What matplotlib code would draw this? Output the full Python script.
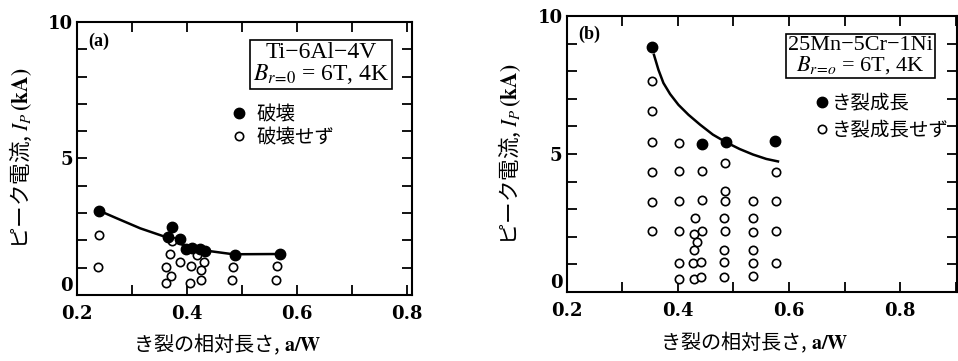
import numpy as np
import matplotlib.pyplot as plt
from matplotlib.ticker import MultipleLocator

plt.rcParams['font.family'] = ['Liberation Serif', 'DejaVu Serif']
plt.rcParams['mathtext.fontset'] = 'stix'

JP = ['Noto Sans CJK JP', 'DejaVu Sans']

# (a) Ti-6Al-4V
a_broken_x = [0.240, 0.373, 0.366, 0.387, 0.398, 0.409, 0.424, 0.433, 0.487, 0.569]
a_broken_y = [3.09, 2.50, 2.11, 2.06, 1.67, 1.71, 1.67, 1.62, 1.47, 1.50]
a_intact_x = [0.240, 0.239, 0.372, 0.369, 0.362, 0.371, 0.362, 0.388, 0.408, 0.405,
              0.418, 0.430, 0.426, 0.426, 0.484, 0.481, 0.563, 0.562]
a_intact_y = [2.18, 1.04, 1.97, 1.50, 1.01, 0.70, 0.43, 1.22, 1.06, 0.43,
              1.47, 1.22, 0.92, 0.55, 1.01, 0.55, 1.06, 0.55]
a_curve_x = [0.240, 0.272, 0.315, 0.363, 0.399, 0.436, 0.484, 0.569]
a_curve_y = [3.09, 2.81, 2.44, 2.11, 1.77, 1.62, 1.49, 1.50]

# (b) 25Mn-5Cr-1Ni
b_grow_x = [0.353, 0.444, 0.487, 0.575]
b_grow_y = [8.86, 5.37, 5.42, 5.46]
b_nogrow_x = [0.353, 0.353, 0.353, 0.353, 0.353, 0.353,
              0.402, 0.402, 0.402, 0.402, 0.402, 0.402,
              0.443, 0.443, 0.443,
              0.431, 0.429, 0.435, 0.429, 0.428, 0.429,
              0.442, 0.442,
              0.484, 0.484, 0.484, 0.483, 0.484, 0.483, 0.483, 0.483,
              0.535, 0.535, 0.535, 0.535, 0.535, 0.535,
              0.577, 0.577, 0.577, 0.577]
b_nogrow_y = [7.63, 6.54, 5.43, 4.34, 3.27, 2.20,
              5.40, 4.40, 3.29, 2.20, 1.06, 0.48,
              4.38, 3.33, 2.20,
              2.69, 2.11, 1.82, 1.51, 1.06, 0.47,
              1.08, 0.53,
              4.68, 3.65, 3.29, 2.69, 2.22, 1.51, 1.08, 0.55,
              3.29, 2.69, 2.17, 1.51, 1.04, 0.58,
              4.35, 3.29, 2.20, 1.04]
b_curve_x = [0.357, 0.365, 0.374, 0.386, 0.401, 0.419, 0.440, 0.463,
             0.487, 0.511, 0.535, 0.559, 0.580]
b_curve_y = [8.59, 8.05, 7.57, 7.17, 6.78, 6.42, 6.06, 5.70,
             5.42, 5.18, 4.98, 4.82, 4.73]

x_ticks = [0.2, 0.4, 0.6, 0.8]
y_ticks = [0, 5, 10]

fig = plt.figure(figsize=(9.58, 3.61), dpi=100)
ax1 = fig.add_axes([0.0804, 0.183, 0.3497, 0.756])
ax2 = fig.add_axes([0.5915, 0.191, 0.4075, 0.765])


def style(ax, xmax, xlab_x):
    ax.set_xlim(0.2, xmax)
    ax.set_ylim(0, 10)
    ax.set_xticks(x_ticks)
    ax.set_yticks(y_ticks)
    ax.xaxis.set_minor_locator(MultipleLocator(0.1))
    ax.yaxis.set_minor_locator(MultipleLocator(1))
    tick_font = dict(family='DejaVu Serif', fontweight='bold', fontsize=13)
    ax.set_xticklabels([f'{v:.1f}' for v in x_ticks], **tick_font)
    ax.set_yticklabels([str(v) for v in y_ticks], **tick_font)
    ax.get_yticklabels()[0].set_verticalalignment('bottom')
    ax.tick_params(which='both', direction='in', top=True, right=True,
                   length=7, width=1.3)
    ax.tick_params(axis='x', pad=7)
    ax.tick_params(axis='y', pad=3)
    for s in ax.spines.values():
        s.set_linewidth(1.5)
    ax.set_ylabel(r'ピーク電流, $I_P\,\mathbf{(kA)}$', family=JP, fontsize=15.5,
                  labelpad=10)
    ax.set_xlabel(r'き裂の相対長さ, $\mathbf{a/W}$', family=JP, fontsize=14.5)
    ax.xaxis.set_label_coords(xlab_x, -0.135)


style(ax1, 0.809, 0.448)
style(ax2, 0.902, 0.481)

# panel (a)
ax1.plot(a_curve_x, a_curve_y, color='black', lw=1.8, zorder=2)
h1, = ax1.plot(a_intact_x, a_intact_y, 'o', ms=6, mfc='white', mec='black',
               mew=1.2, ls='none', zorder=3)
h2, = ax1.plot(a_broken_x, a_broken_y, 'o', ms=7.5, color='black', ls='none',
               zorder=4)
ax1.text(0.033, 0.96, '(a)', transform=ax1.transAxes, fontsize=13,
         fontweight='bold', va='top')
ax1.text(0.728, 0.845, 'Ti\u22126Al\u22124V\n$B_{r\\!=\\!0}$ = 6T, 4K',
         transform=ax1.transAxes, ha='center', va='center', fontsize=17,
         linespacing=0.95,
         bbox=dict(boxstyle='square,pad=0.12', fc='white', ec='black', lw=1.2))
ax1.legend([h2, h1], ['破壊', '破壊せず'], loc='upper left',
           bbox_to_anchor=(0.43, 0.735), frameon=False, prop={'family': JP, 'size': 14},
           handlelength=0.8, handletextpad=0.5, labelspacing=0.1, borderpad=0)

# panel (b)
ax2.plot(b_curve_x, b_curve_y, color='black', lw=1.8, zorder=2)
g1, = ax2.plot(b_nogrow_x, b_nogrow_y, 'o', ms=6, mfc='white', mec='black',
               mew=1.2, ls='none', zorder=3)
g2, = ax2.plot(b_grow_x, b_grow_y, 'o', ms=7.5, color='black', ls='none',
               zorder=4)
ax2.text(0.03, 0.965, '(b)', transform=ax2.transAxes, fontsize=13,
         fontweight='bold', va='top')
ax2.text(0.752, 0.855, '25Mn\u22125Cr\u22121Ni\n$B_{r\\!=\\!o}$ = 6T, 4K',
         transform=ax2.transAxes, ha='center', va='center', fontsize=16,
         linespacing=0.95,
         bbox=dict(boxstyle='square,pad=0.1', fc='white', ec='black', lw=1.2))
ax2.legend([g2, g1], ['き裂成長', 'き裂成長せず'], loc='upper left',
           bbox_to_anchor=(0.615, 0.755), frameon=False, prop={'family': JP, 'size': 14},
           handlelength=0.6, handletextpad=0.2, labelspacing=0.3, borderpad=0)

fig.savefig('out.png', dpi=100)
